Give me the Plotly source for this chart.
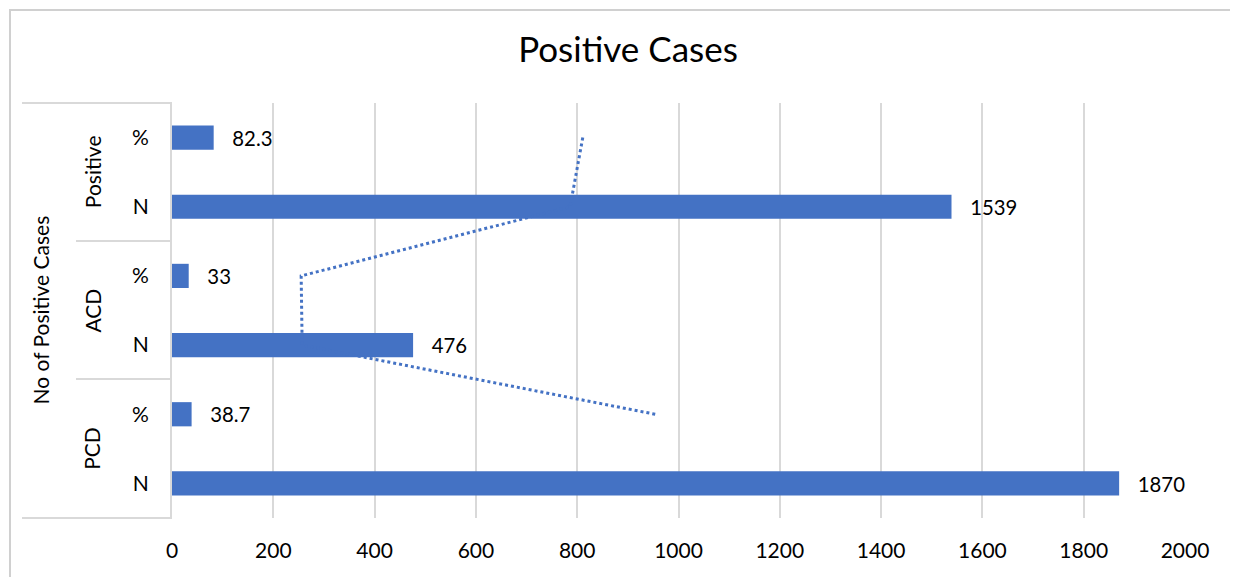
import plotly.graph_objects as go

# Data (bottom to top, as drawn)
groups = ["PCD", "PCD", "ACD", "ACD", "Positive", "Positive"]
subs = ["N", "%", "N", "%", "N", "%"]
values = [1870, 38.7, 476, 33, 1539, 82.3]
value_labels = ["1870", "38.7", "476", "33", "1539", "82.3"]
# 2-period moving average trendline (starts at 2nd category)
trend_values = [954, 257, 255, 786, 811]
x_ticks = [0, 200, 400, 600, 800, 1000, 1200, 1400, 1600, 1800, 2000]

cats = [g + " " + s for g, s in zip(groups, subs)]
BLUE = "#4472C4"
GRID = "#d9d9d9"
FONT = "Lato"

fig = go.Figure()
fig.add_trace(go.Bar(
    x=values, y=cats, orientation="h",
    marker=dict(color=BLUE, line=dict(width=0)),
    width=0.35,
    text=["   " + t for t in value_labels],
    textposition="outside",
    textfont=dict(family=FONT, size=21, color="#000000"),
    cliponaxis=False,
    showlegend=False,
))
fig.add_trace(go.Scatter(
    x=trend_values, y=cats[1:], mode="lines",
    line=dict(color=BLUE, width=3, dash="dot"),
    showlegend=False,
))

# page geometry (the html body adds an 8px offset)
OFF = 8
PAGE_W, PAGE_H = 1238, 577
W, H = PAGE_W - OFF, PAGE_H - OFF
PL, PR, PT, PB = 172, 1185, 103, 518   # plot area in page pixels
L, T = PL - OFF, PT - OFF
R, B = W - (PR - OFF), H - (PB - OFF)
pw = PR - PL
ph = PB - PT

def px_x(p):
    return (p - PL) / pw

def px_y(p):
    return (PB - p) / ph

shapes = []
line_style = dict(color=GRID, width=2)
for (x0, y) in [(22, PT), (76, 241), (76, 379), (22, PB)]:
    shapes.append(dict(type="line", xref="paper", yref="paper",
                       x0=px_x(x0), x1=0, y0=px_y(y), y1=px_y(y), line=line_style))
shapes.append(dict(type="rect", xref="paper", yref="paper",
                   x0=px_x(10), x1=px_x(1236), y0=px_y(600), y1=px_y(10),
                   line=dict(color="#d0d0d0", width=2), layer="below"))

annotations = []
for g, idx in [("PCD", 0.5), ("ACD", 2.5), ("Positive", 4.5)]:
    annotations.append(dict(text=g, xref="paper", yref="y", x=px_x(92), y=idx,
                            textangle=-90, showarrow=False, xanchor="center", yanchor="middle",
                            font=dict(family=FONT, size=21, color="#000000")))
annotations.append(dict(text="No of Positive Cases", xref="paper", yref="paper",
                        x=px_x(40), y=0.5, textangle=-90, showarrow=False,
                        xanchor="center", yanchor="middle",
                        font=dict(family=FONT, size=21, color="#000000")))

fig.update_layout(
    width=W, height=H,
    margin=dict(l=L, r=R, t=T, b=B, autoexpand=False),
    paper_bgcolor="white", plot_bgcolor="white",
    title=dict(text="Positive Cases", x=(628 - OFF) / W, xref="container", xanchor="center",
               y=1 - (50 - OFF) / H, yanchor="middle",
               font=dict(family=FONT, size=35, color="#000000")),
    font=dict(family=FONT, size=21, color="#000000"),
    xaxis=dict(range=[0, 2000], tickvals=x_ticks, showgrid=True, gridcolor=GRID,
               gridwidth=2, zeroline=False, showline=False, ticks="",
               tickfont=dict(family=FONT, size=21), ticklabelstandoff=18),
    yaxis=dict(type="category", categoryorder="array", categoryarray=cats,
               range=[-0.5, 5.5], tickvals=cats, ticktext=subs,
               showgrid=False, showline=True, linecolor=GRID, linewidth=2,
               ticks="", tickfont=dict(family=FONT, size=21), ticklabelstandoff=17),
    shapes=shapes, annotations=annotations,
    bargap=0.65,
)

fig.write_html("out.html")
